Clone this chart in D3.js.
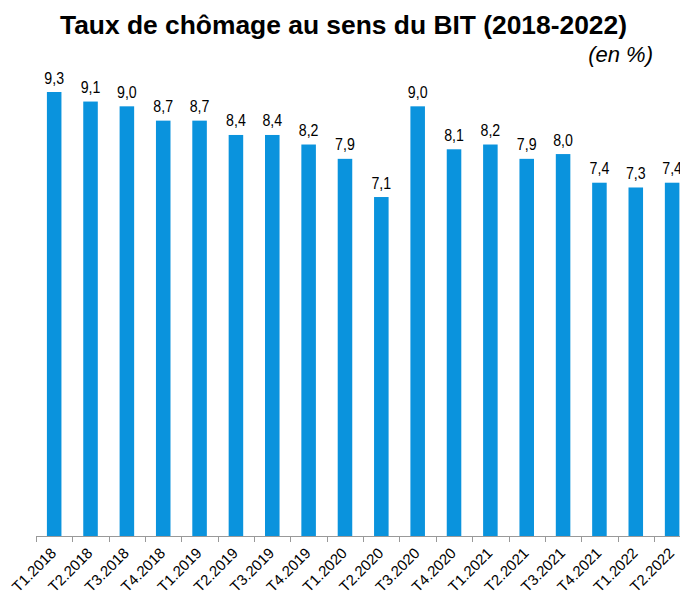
<!DOCTYPE html>
<html><head><meta charset="utf-8">
<script src="https://cdn.jsdelivr.net/npm/d3@7"></script>
<style>body{margin:0;background:#fff}svg{display:block}</style>
</head><body>
<script>
const categories = ["T1.2018","T2.2018","T3.2018","T4.2018","T1.2019","T2.2019","T3.2019","T4.2019","T1.2020","T2.2020","T3.2020","T4.2020","T1.2021","T2.2021","T3.2021","T4.2021","T1.2022","T2.2022"];
const values = [9.3,9.1,9.0,8.7,8.7,8.4,8.4,8.2,7.9,7.1,9.0,8.1,8.2,7.9,8.0,7.4,7.3,7.4];
const title = "Taux de chômage au sens du BIT (2018-2022)";
const unit = "(en %)";

const W = 680, H = 598;
const svg = d3.select("body").append("svg").attr("width", W).attr("height", H);
const font = "'Liberation Sans', Arial, sans-serif";

const x = d3.scaleBand().domain(categories).range([36, 690.3]).paddingInner(0.6).paddingOuter(0.3);
const y = d3.scaleLinear().domain([0, 9.3]).range([536, 92]);

svg.append("text").attr("x", 343.5).attr("y", 34).attr("text-anchor", "middle")
  .attr("font-family", font).attr("font-weight", "bold").attr("font-size", 25.5)
  .attr("textLength", 567).attr("lengthAdjust", "spacingAndGlyphs").attr("fill", "#000").text(title);
svg.append("text").attr("x", 653).attr("y", 62).attr("text-anchor", "end")
  .attr("font-family", font).attr("font-style", "italic").attr("font-size", 22).attr("fill", "#000").text(unit);

svg.selectAll("rect.bar").data(values).join("rect").attr("class", "bar")
  .attr("x", (d, i) => x(categories[i])).attr("width", x.bandwidth())
  .attr("y", d => y(d)).attr("height", d => y(0) - y(d)).attr("fill", "#0a93dd");

svg.selectAll("text.val").data(values).join("text").attr("class", "val")
  .attr("transform", (d, i) => `translate(${x(categories[i]) + x.bandwidth() / 2},${y(d) - 8.5}) scale(0.86,1)`)
  .attr("text-anchor", "middle").attr("font-family", font).attr("font-size", 16.5).attr("fill", "#000")
  .text(d => d.toFixed(1).replace(".", ","));

// axis
const step = x.step();
const ax = svg.append("g");
ax.append("line").attr("x1", 36).attr("x2", 690.3).attr("y1", 536.5).attr("y2", 536.5).attr("stroke", "#999");
const tickXs = d3.range(categories.length + 1).map(i => 36 + i * step);
ax.selectAll("line.tk").data(tickXs).join("line").attr("class", "tk")
  .attr("x1", d => Math.round(d) + 0.5).attr("x2", d => Math.round(d) + 0.5).attr("y1", 536).attr("y2", 542).attr("stroke", "#999");
ax.selectAll("text.lab").data(categories).join("text").attr("class", "lab")
  .attr("transform", d => `translate(${x(d) + x.bandwidth() / 2 + 3},${554}) rotate(-45)`)
  .attr("text-anchor", "end").attr("font-family", font).attr("font-size", 15).attr("fill", "#000").text(d => d);
</script>
</body></html>
